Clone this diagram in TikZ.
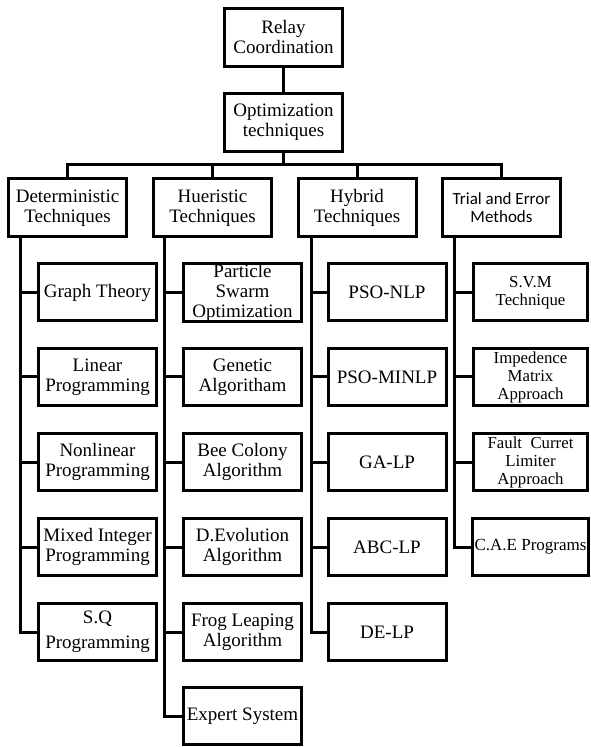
\documentclass[tikz,border=0pt]{standalone}
\usepackage{fontspec}
\setmainfont{Liberation Serif}
\newfontfamily\calibrifont{Carlito}
\usepackage{tikz}
\usetikzlibrary{positioning}

\begin{document}
\begin{tikzpicture}[
  x=0.5pt, y=-0.5pt,
  font=\fontsize{9.5}{10}\selectfont,
  box/.style={draw, rectangle, minimum width=59pt, minimum height=29pt, inner xsep=1pt, inner ysep=0pt, align=center, line width=1.5pt},
  leaf/.style={box, minimum height=28.5pt},
  smalltext/.style={font=\fontsize{8.4}{9}\selectfont},
  link/.style={line width=1.5pt},
]
\useasboundingbox (0,0) rectangle (590,747);

% top of the tree
\node[box] (relay) at (283.5,37.5) {Relay\\Coordination};
\node[box] (optim) at (283.5,122.5) {Optimization\\techniques};

% categories
\node[box] (determ) at (67.5,208) {Deterministic\\Techniques};
\node[box] (heur) at (212.5,208) {Hueristic\\Techniques};
\node[box] (hybrid) at (357,208) {Hybrid\\Techniques};
\node[box, font=\calibrifont\fontsize{8.5}{9}\selectfont] (trial) at (501.5,208) {Trial and Error\\Methods};

% deterministic
\node[leaf] (graph) at (97.5,292.5) {Graph Theory};
\node[leaf] (linear) at (97.5,377) {Linear\\Programming};
\node[leaf] (nonlin) at (97.5,462) {Nonlinear\\Programming};
\node[leaf] (mixed) at (97.5,547) {Mixed Integer\\Programming};
\node[leaf] (sqp) at (97.5,632) {S.Q\\[2.5pt]Programming};

% heuristic
\node[leaf] (pso) at (242.5,292.5) {Particle\\Swarm\\Optimization};
\node[leaf] (genetic) at (242.5,377) {Genetic\\Algoritham};
\node[leaf] (bee) at (242.5,462) {Bee Colony\\Algorithm};
\node[leaf] (devol) at (242.5,547) {D.Evolution\\Algorithm};
\node[leaf] (frog) at (242.5,632) {Frog Leaping\\Algorithm};
\node[leaf] (expert) at (242.5,716) {Expert System};

% hybrid
\node[leaf] (psonlp) at (387,292.5) {PSO-NLP};
\node[leaf] (psominlp) at (387,377) {PSO-MINLP};
\node[leaf] (galp) at (387,462) {GA-LP};
\node[leaf] (abclp) at (387,547) {ABC-LP};
\node[leaf] (delp) at (387,632) {DE-LP};

% trial and error
\node[leaf, smalltext, minimum width=57pt] (svm) at (530.5,292.5) {S.V.M\\Technique};
\node[leaf, smalltext, minimum width=57pt] (imped) at (530.5,377) {Impedence\\Matrix\\Approach};
\node[leaf, smalltext, minimum width=57pt] (fcl) at (530.5,462) {Fault\ \ Curret\\Limiter\\Approach};
\node[leaf, minimum width=57pt, font=\fontsize{8.5}{9}\selectfont] (cae) at (530.5,547) {C.A.E Programs};

% main links
\coordinate (bus) at (283.5,165);
\draw[link] (relay) -- (optim);
\draw[link] (optim) -- (bus);
\draw[link] (determ) |- (bus) -| (trial);
\draw[link] (heur) -- (heur |- bus);
\draw[link] (hybrid) -- (hybrid |- bus);

% spines
\coordinate (detx) at (20,0);
\coordinate (heurx) at (164,0);
\coordinate (hybx) at (311,0);
\coordinate (trialx) at (454,0);
\draw[link] (determ.south -| detx) |- (sqp);
\draw[link] (heur.south -| heurx) |- (expert);
\draw[link] (hybrid.south -| hybx) |- (delp);
\draw[link] (trial.south -| trialx) |- (cae);

% stubs
\draw[link] (graph) -- (graph -| detx);
\draw[link] (linear) -- (linear -| detx);
\draw[link] (nonlin) -- (nonlin -| detx);
\draw[link] (mixed) -- (mixed -| detx);
\draw[link] (pso) -- (pso -| heurx);
\draw[link] (genetic) -- (genetic -| heurx);
\draw[link] (bee) -- (bee -| heurx);
\draw[link] (devol) -- (devol -| heurx);
\draw[link] (frog) -- (frog -| heurx);
\draw[link] (psonlp) -- (psonlp -| hybx);
\draw[link] (psominlp) -- (psominlp -| hybx);
\draw[link] (galp) -- (galp -| hybx);
\draw[link] (abclp) -- (abclp -| hybx);
\draw[link] (svm) -- (svm -| trialx);
\draw[link] (imped) -- (imped -| trialx);
\draw[link] (fcl) -- (fcl -| trialx);
\end{tikzpicture}
\end{document}
